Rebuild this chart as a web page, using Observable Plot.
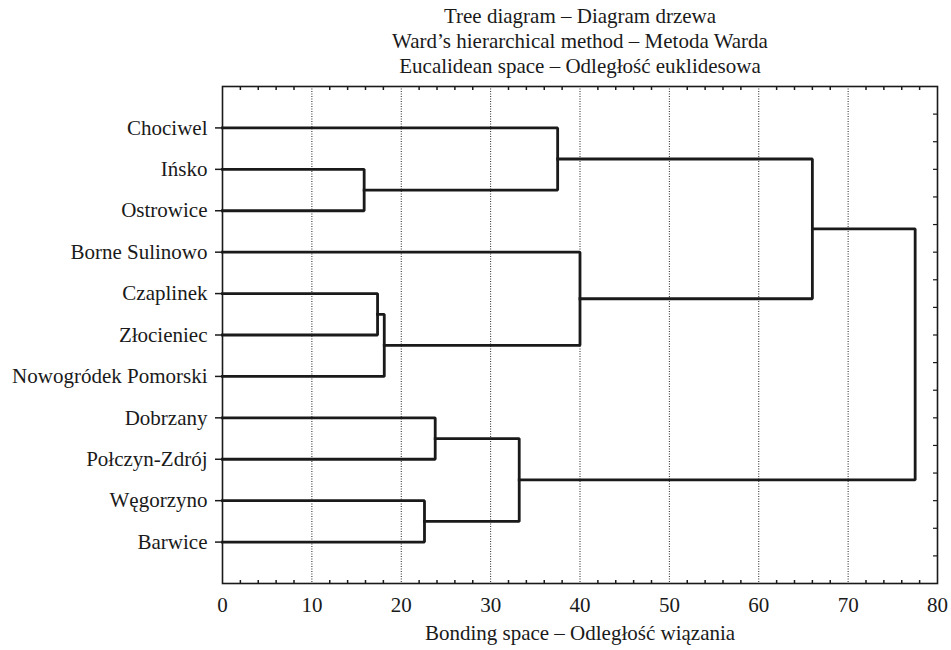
<!DOCTYPE html>
<html><head><meta charset="utf-8">
<script src="https://cdn.jsdelivr.net/npm/d3@7"></script>
<script src="https://cdn.jsdelivr.net/npm/@observablehq/plot@0.6"></script>
<style>
body{margin:0;background:#fff}
#chart svg, #chart svg text { font-family: "Liberation Serif", "Times New Roman", serif !important; }
</style>
</head><body><div id="chart"></div>
<script>
const leaves = ["Chociwel","Ińsko","Ostrowice","Borne Sulinowo","Czaplinek","Złocieniec","Nowogródek Pomorski","Dobrzany","Połczyn-Zdrój","Węgorzyno","Barwice"];
// merges: new cluster id = leaves.length + index
const mergeLeft   = [1, 4, 12, 9, 7, 14, 0, 3, 17, 19];
const mergeRight  = [2, 5, 6, 10, 8, 15, 11, 13, 18, 16];
const mergeHeight = [15.85, 17.35, 18.1, 22.6, 23.8, 33.2, 37.5, 40.0, 66.0, 77.5];
const xTicks = [0, 10, 20, 30, 40, 50, 60, 70, 80];
const gridTicks = [10, 20, 30, 40, 50, 60, 70];
const titleLines = ["Tree diagram – Diagram drzewa", "Ward’s hierarchical method – Metoda Warda", "Eucalidean space – Odległość euklidesowa"];
const xLabel = "Bonding space – Odległość wiązania";

// node positions derived from linkage
const nodes = leaves.map((d, i) => ({h: 0, r: i}));
const segs = [];
mergeLeft.forEach((a, i) => {
  const b = mergeRight[i], h = mergeHeight[i];
  const A = nodes[a], B = nodes[b];
  nodes.push({h, r: (A.r + B.r) / 2});
  const id = "m" + i;
  segs.push({id, x: A.h, y: A.r}, {id, x: h, y: A.r}, {id, x: h, y: B.r}, {id, x: B.h, y: B.r});
});

const minorX = d3.range(2, 80, 2).filter(v => v % 10 !== 0);
const minorY = d3.range(1, 18).map(k => -1 + k * 2 / 3);
const blank = () => "";

const chart = Plot.plot({
  width: 951,
  height: 650,
  marginLeft: 222,
  marginRight: 14,
  marginTop: 86,
  marginBottom: 67,
  style: {fontFamily: "Liberation Serif, Times New Roman, serif", fontSize: "21px", color: "#1a1a1a", background: "#fff"},
  x: {domain: [0, 80]},
  y: {domain: [11, -1]},
  marks: [
    Plot.gridX({ticks: gridTicks, stroke: "#222", strokeOpacity: 1, strokeWidth: 1, strokeDasharray: "1,1.5"}),
    Plot.axisX({anchor: "bottom", ticks: xTicks, tickSize: 0, tickPadding: 14, label: null, fontSize: 21}),
    Plot.axisX({anchor: "bottom", ticks: minorX, tickSize: -3, tickFormat: blank, label: null, strokeWidth: 1.5}),
    Plot.axisX({anchor: "top", ticks: minorX, tickSize: -3, tickFormat: blank, label: null, strokeWidth: 1.5}),
    Plot.axisY({anchor: "left", ticks: d3.range(leaves.length), tickFormat: i => leaves[i], tickSize: 7, tickPadding: 8, label: null, strokeWidth: 1.5, fontSize: 21}),
    Plot.axisY({anchor: "right", ticks: minorY, tickSize: -5, tickFormat: blank, label: null, strokeWidth: 1.2}),
    Plot.line(segs, {x: "x", y: "y", z: "id", stroke: "#1a1a1a", strokeWidth: 2.8, strokeLinejoin: "miter", strokeLinecap: "square"}),
    Plot.frame({stroke: "#1a1a1a", strokeWidth: 1.6}),
    Plot.text([titleLines.join("\n")], {frameAnchor: "top", lineAnchor: "middle", dy: -46.5, lineHeight: 1.2, fontSize: 21, fill: "#1a1a1a"}),
    Plot.text([xLabel], {frameAnchor: "bottom", lineAnchor: "middle", dy: 50, fontSize: 21, fill: "#1a1a1a"})
  ]
});
document.getElementById("chart").appendChild(chart);
</script>
</body></html>
